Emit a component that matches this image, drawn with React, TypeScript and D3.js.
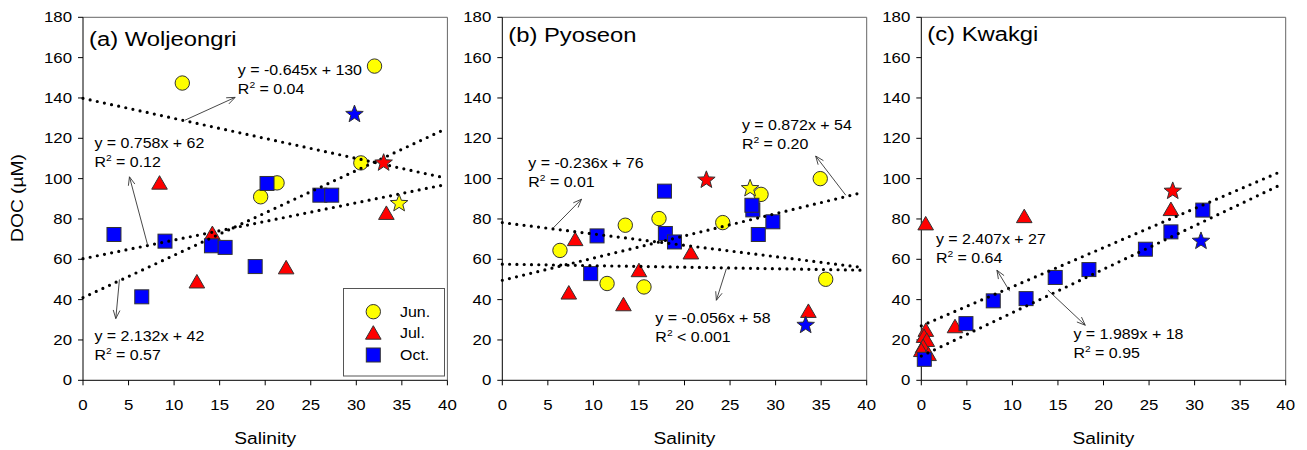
import React from "react";
import * as d3 from "d3";

// ---------- data ----------
const salTicks = [0, 5, 10, 15, 20, 25, 30, 35, 40];
const docTicks = [0, 20, 40, 60, 80, 100, 120, 140, 160, 180];
const months = ["Jun.", "Jul.", "Oct."];
const panelTitles = ["(a) Woljeongri", "(b) Pyoseon", "(c) Kwakgi"];

// Panel (a) Woljeongri
const aJunSal = [10.9, 32.0, 30.5, 21.3, 19.5];
const aJunDoc = [147.4, 155.8, 107.8, 97.9, 91.0];
const aJulSal = [8.4, 14.2, 12.5, 22.3, 33.3];
const aJulDoc = [98, 73, 49, 56, 83];
const aOctSal = [3.4, 9.0, 6.45, 14.1, 15.6, 18.9, 26.0, 27.3, 20.2];
const aOctDoc = [72.3, 69, 41.4, 66.7, 65.9, 56.4, 91.8, 91.8, 97.6];
const aStarSal = [34.7, 33.0, 29.8];
const aStarDoc = [87.7, 107.8, 131.9];
const aFits = [
  { x0: 0, y0: 139.8, x1: 39.5, y1: 100.6, eq: "y = -0.645x + 130", r2: " = 0.04" },
  { x0: 0, y0: 60.3, x1: 39.5, y1: 96.8, eq: "y = 0.758x + 62", r2: " = 0.12" },
  { x0: 0, y0: 41, x1: 39.5, y1: 124, eq: "y = 2.132x + 42", r2: " = 0.57" },
];
// annotation anchors (salinity, DOC): arrow tail, arrow head, text
const aNotes = [
  { tx: 11.2, ty: 129, hx: 16.7, hy: 140.3, lx: 17.0, ly: 151.4 },
  { tx: 7.1, ty: 67, hx: 5.1, hy: 100.9, lx: 1.25, ly: 115.1 },
  { tx: 4.0, ty: 50, hx: 3.6, hy: 30.6, lx: 1.25, ly: 19.5 },
];

// Panel (b) Pyoseon
const bJunSal = [6.33, 13.5, 17.2, 11.5, 15.55, 24.2, 35.5, 34.9, 28.4];
const bJunDoc = [64.4, 76.9, 80.2, 48, 46.3, 78.2, 50.1, 100, 92.2];
const bJulSal = [8.0, 7.3, 15.0, 13.3, 20.7, 33.6];
const bJulDoc = [70, 43.5, 54.6, 37.7, 63.4, 34.4];
const bOctSal = [17.8, 10.4, 9.7, 17.9, 18.9, 27.5, 27.4, 28.1, 29.7];
const bOctDoc = [93.8, 71.6, 52.9, 72.8, 68.6, 84.5, 86.8, 72.3, 78.6];
const bStarSal = [27.2, 22.4, 33.3];
const bStarDoc = [95.1, 99.3, 27.3];
const bFits = [
  { x0: 0, y0: 78.2, x1: 39.6, y1: 55.9, eq: "y = -0.236x + 76", r2: " = 0.01" },
  { x0: 0, y0: 57.6, x1: 39.6, y1: 54.6, eq: "y = -0.056x + 58", r2: " < 0.001" },
  { x0: 0, y0: 49.6, x1: 39.6, y1: 93.2, eq: "y = 0.872x + 54", r2: " = 0.20" },
];
const bNotes = [
  { tx: 5.6, ty: 75.6, hx: 8.7, hy: 89.8, lx: 2.85, ly: 105.1 },
  { tx: 24.6, ty: 55.4, hx: 23.5, hy: 39.7, lx: 16.8, ly: 28.4 },
  { tx: 37.7, ty: 91.8, hx: 34.4, hy: 111.2, lx: 26.3, ly: 124.1 },
];

// Panel (c) Kwakgi
const cJunSal: number[] = [];
const cJunDoc: number[] = [];
const cJulSal = [0.48, 11.3, 27.4, 3.7, 0.5, 0.3, 0.6, 0.2, 0.0, 0.8];
const cJulDoc = [77.8, 81.4, 84.9, 26.8, 25, 22, 20, 17, 15, 13];
const cOctSal = [0.33, 4.9, 7.9, 11.5, 14.7, 18.4, 24.6, 27.4, 30.9];
const cOctDoc = [10.4, 28.1, 39.4, 40.5, 51, 54.9, 65, 73.6, 84.4];
const cStarSal = [NaN, 27.6, 30.7];
const cStarDoc = [NaN, 93.8, 69];
const cFits = [
  { x0: 0, y0: 27, x1: 39.3, y1: 103.2, eq: "y = 2.407x + 27", r2: " = 0.64" },
  { x0: 0, y0: 12, x1: 39.6, y1: 97.3, eq: "y = 1.989x + 18", r2: " = 0.95" },
];
const cNotes = [
  { tx: 9.7, ty: 44.2, hx: 8.3, hy: 54.6, lx: 1.6, ly: 67.8 },
  { tx: 13.9, ty: 44.7, hx: 18.0, hy: 27.3, lx: 16.7, ly: 20.7 },
];

const panels = [
  { junS: aJunSal, junD: aJunDoc, julS: aJulSal, julD: aJulDoc, octS: aOctSal, octD: aOctDoc, starS: aStarSal, starD: aStarDoc, fits: aFits, notes: aNotes },
  { junS: bJunSal, junD: bJunDoc, julS: bJulSal, julD: bJulDoc, octS: bOctSal, octD: bOctDoc, starS: bStarSal, starD: bStarDoc, fits: bFits, notes: bNotes },
  { junS: cJunSal, junD: cJunDoc, julS: cJulSal, julD: cJulDoc, octS: cOctSal, octD: cOctDoc, starS: cStarSal, starD: cStarDoc, fits: cFits, notes: cNotes },
];

// ---------- layout / style ----------
const W = 1307;
const H = 450;
const LEFTS = [83, 502.3, 921.3];
const PW = 364.4;
const TOP = 17.3;
const BOTTOM = 380.3;
const FONT = "'Liberation Sans', Arial, sans-serif";
const COLORS = ["#FFFF00", "#FF0000", "#0000FF"];
const MSTROKE = "#333";

function T({ x, y, size, anchor = "start", sx = 1.16, rot = 0, children }: any) {
  return (
    <g transform={`translate(${x},${y}) rotate(${rot}) scale(${sx},1)`}>
      <text fontSize={size} textAnchor={anchor} fontFamily={FONT} fill="#000">
        {children}
      </text>
    </g>
  );
}

function starPath(cx: number, cy: number, ro: number, ri: number) {
  const pts: string[] = [];
  for (let i = 0; i < 10; i++) {
    const a = -Math.PI / 2 + (i * Math.PI) / 5;
    const r = i % 2 === 0 ? ro : ri;
    pts.push(`${cx + r * Math.cos(a)},${cy + r * Math.sin(a)}`);
  }
  return "M" + pts.join("L") + "Z";
}

function Circle({ x, y }: any) {
  return <circle cx={x} cy={y} r={7.2} fill={COLORS[0]} stroke={MSTROKE} strokeWidth={1} />;
}
function Tri({ x, y }: any) {
  return (
    <path
      d={`M${x},${y - 7}L${x + 7.8},${y + 6.5}L${x - 7.8},${y + 6.5}Z`}
      fill={COLORS[1]}
      stroke={MSTROKE}
      strokeWidth={1}
    />
  );
}
function Sq({ x, y }: any) {
  return <rect x={x - 7} y={y - 7} width={14} height={14} fill={COLORS[2]} stroke={MSTROKE} strokeWidth={1} />;
}

function Arrow({ x1, y1, x2, y2 }: any) {
  const ang = Math.atan2(y2 - y1, x2 - x1);
  const L = 9;
  const sp = 0.38;
  const ax = x2 - L * Math.cos(ang - sp);
  const ay = y2 - L * Math.sin(ang - sp);
  const bx = x2 - L * Math.cos(ang + sp);
  const by = y2 - L * Math.sin(ang + sp);
  return (
    <g stroke="#333" strokeWidth={0.9} fill="none">
      <line x1={x1} y1={y1} x2={x2} y2={y2} />
      <path d={`M${ax},${ay}L${x2},${y2}L${bx},${by}`} />
    </g>
  );
}

function Panel({ idx }: { idx: number }) {
  const p = panels[idx];
  const left = LEFTS[idx];
  const x = d3.scaleLinear().domain([0, 40]).range([left, left + PW]);
  const y = d3.scaleLinear().domain([0, 180]).range([BOTTOM, TOP]);
  const eqSize = 14;
  return (
    <g>
      {/* frame: top/right */}
      <path d={`M${x(0)},${y(180)}H${x(40)}V${y(0)}`} fill="none" stroke="#666" strokeWidth={1} />
      {/* axes */}
      <line x1={x(0)} y1={y(0)} x2={x(0)} y2={y(180)} stroke="#000" strokeWidth={1} />
      <line x1={x(0)} y1={y(0)} x2={x(40)} y2={y(0)} stroke="#000" strokeWidth={1} />
      {docTicks.map((t) => (
        <g key={"y" + t}>
          <line x1={x(0) - 5} x2={x(0)} y1={y(t)} y2={y(t)} stroke="#000" />
          <T x={x(0) - 11} y={y(t) + 5} size={14} anchor="end" sx={1.2}>
            {t}
          </T>
        </g>
      ))}
      {salTicks.map((t) => (
        <g key={"x" + t}>
          <line x1={x(t)} x2={x(t)} y1={y(0)} y2={y(0) + 5} stroke="#000" />
          <T x={x(t)} y={410} size={14} anchor="middle" sx={1.2}>
            {t}
          </T>
        </g>
      ))}
      <T x={(x(0) + x(40)) / 2} y={444} size={17} anchor="middle" sx={1.13}>
        Salinity
      </T>
      <T x={x(0) + 6} y={[46, 42, 41][idx]} size={20} sx={1.19}>
        {panelTitles[idx]}
      </T>

      {/* markers */}
      {p.junS.map((s, i) => (
        <Circle key={"j" + i} x={x(s)} y={y(p.junD[i])} />
      ))}
      {p.julS.map((s, i) => (
        <Tri key={"l" + i} x={x(s)} y={y(p.julD[i])} />
      ))}
      {p.octS.map((s, i) => (
        <Sq key={"o" + i} x={x(s)} y={y(p.octD[i])} />
      ))}

      {/* regression lines */}
      {p.fits.map((f, i) => (
        <line
          key={"f" + i}
          x1={x(f.x0)}
          y1={y(f.y0)}
          x2={x(f.x1)}
          y2={y(f.y1)}
          stroke="#000"
          strokeWidth={3.2}
          strokeLinecap="round"
          strokeDasharray="0 7.3"
        />
      ))}

      {/* stars */}
      {p.starS.map((s, i) =>
        isNaN(s) ? null : (
          <path key={"s" + i} d={starPath(x(s), y(p.starD[i]), 9.2, 3.9)} fill={COLORS[i]} stroke={MSTROKE} strokeWidth={1} />
        )
      )}

      {/* annotations */}
      {p.notes.map((n, i) => (
        <g key={"n" + i}>
          <Arrow x1={x(n.tx)} y1={y(n.ty)} x2={x(n.hx)} y2={y(n.hy)} />
          <T x={x(n.lx)} y={y(n.ly)} size={eqSize} sx={1.14}>
            {p.fits[i].eq}
          </T>
          <T x={x(n.lx)} y={y(n.ly) + 19} size={eqSize} sx={1.14}>
            <tspan>R</tspan>
            <tspan dy={-6} fontSize={9}>
              2
            </tspan>
            <tspan dy={6}>{p.fits[i].r2}</tspan>
          </T>
        </g>
      ))}
    </g>
  );
}

function Legend() {
  const lx = 343.5;
  const ty = 288.5;
  const rows = [311.7, 332.7, 355];
  return (
    <g>
      <rect x={lx} y={ty} width={101} height={87.5} fill="#fff" stroke="#555" strokeWidth={1} />
      <Circle x={373.3} y={rows[0]} />
      <Tri x={373.3} y={rows[1]} />
      <Sq x={373.3} y={rows[2]} />
      {months.map((m, i) => (
        <T key={m} x={400} y={rows[i] + 5} size={14} sx={1.14}>
          {m}
        </T>
      ))}
    </g>
  );
}

export default function App() {
  return (
    <svg
      width={W}
      height={H}
      viewBox={`0 0 ${W} ${H}`}
      style={{ position: "absolute", left: 0, top: 0, background: "#fff" }}
    >
      <rect x={0} y={0} width={W} height={H} fill="#fff" />
      {[0, 1, 2].map((i) => (
        <Panel key={i} idx={i} />
      ))}
      <Legend />
      <T x={23} y={198} size={17} anchor="middle" rot={-90} sx={1.13}>
        DOC (µM)
      </T>
    </svg>
  );
}
